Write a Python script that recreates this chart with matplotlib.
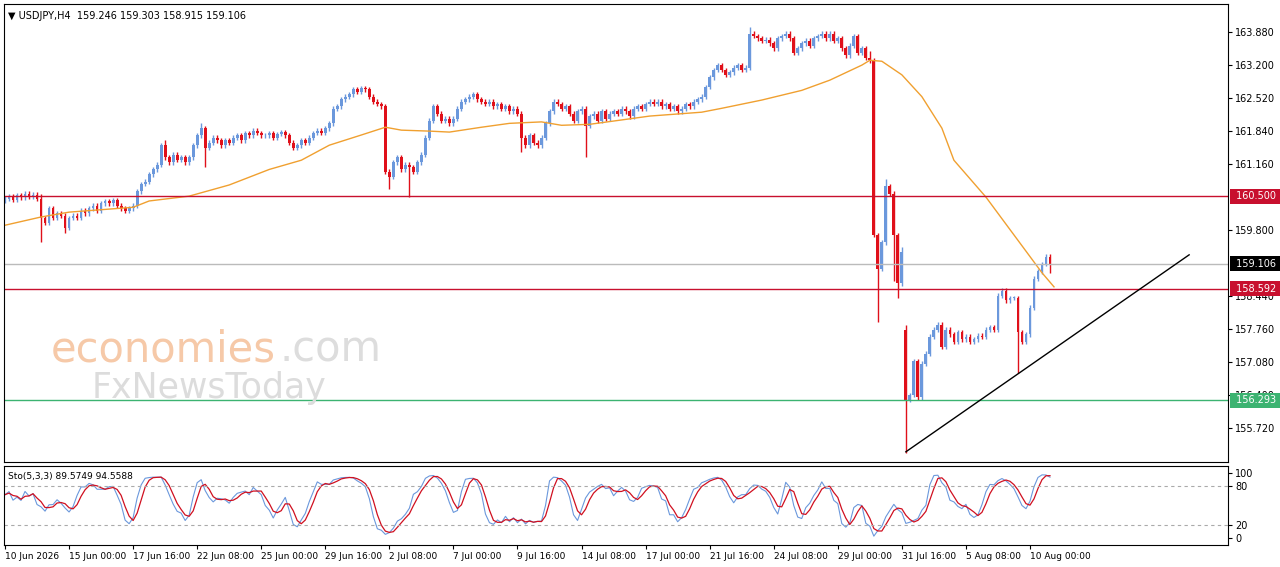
import numpy as np
import matplotlib
matplotlib.use("Agg")
import matplotlib.pyplot as plt
import matplotlib.transforms as mtransforms

closes = [160.45,160.50,160.42,160.52,160.48,160.55,160.50,160.53,160.45,
 160.05,
 159.95,160.25,160.05,160.15,160.10,159.85,160.05,
 160.10,160.05,160.20,160.15,160.25,160.30,160.20,160.35,
 160.40,160.35,160.42,160.30,160.25,160.20,160.25,160.30,
 160.60,160.75,160.80,160.95,161.05,161.15,161.55,161.30,
 161.20,161.35,161.25,161.30,161.20,161.30,161.55,
 161.75,161.90,161.50,
 161.60,161.70,161.65,161.55,161.65,161.60,161.70,161.75,161.65,161.80,161.75,161.85,161.80,161.75,
 161.75,161.80,161.70,161.78,161.82,161.75,161.60,161.50,161.55,161.65,161.60,161.70,161.80,161.85,161.80,161.90,162.00,
 162.30,162.35,162.50,162.55,162.60,162.70,162.65,162.72,162.70,162.55,162.45,
 162.40,162.35,161.00,160.90,161.20,161.30,161.05,161.15,
 161.10,161.00,161.20,161.35,161.70,162.05,162.35,162.20,
 162.05,162.10,162.00,162.10,162.30,162.45,162.50,162.55,162.60,162.50,162.45,162.40,
 162.45,162.35,162.40,162.30,162.35,162.25,162.30,162.20,
 161.70,161.55,161.75,161.60,161.55,161.70,162.00,162.25,
 162.45,162.40,162.30,162.35,162.20,162.05,162.25,162.30,161.95,
 162.15,162.20,162.05,162.25,162.10,162.20,162.25,162.20,162.30,162.25,162.15,162.30,162.35,162.30,162.40,
 162.45,162.40,162.45,162.35,162.40,162.30,162.35,162.25,162.30,162.40,162.35,162.45,162.50,162.55,
 162.75,162.95,163.10,163.20,163.10,163.00,163.05,163.15,163.20,163.10,163.15,163.85,
 163.80,163.75,163.70,163.72,163.65,163.55,163.75,163.80,163.85,163.75,163.45,163.55,163.65,
 163.70,163.60,163.75,163.80,163.85,163.75,163.85,163.70,163.75,163.55,163.40,163.60,163.80,163.45,163.55,163.35,
 163.30,159.70,159.00,159.55,160.70,160.55,159.70,158.70,159.35,
 156.30,156.40,157.10,156.35,157.05,157.25,157.60,157.75,157.85,157.40,157.75,157.65,157.50,157.70,157.55,157.60,
 157.50,157.55,157.62,157.60,157.75,157.80,157.75,158.45,158.55,158.35,158.40,158.40,157.70,157.50,157.65,158.20,158.80,158.95,159.10,159.25,159.11]
first_open = 160.40
gap_opens = {225: 157.75}
high_marks = {9: 160.55, 40: 161.65, 49: 162.00, 186: 163.98, 216: 163.50, 220: 160.85,
              221: 160.75, 224: 159.45, 225: 157.85, 261: 159.30}
low_marks = {9: 159.55, 15: 159.75, 50: 161.10, 96: 160.65, 101: 160.48, 129: 161.40,
             145: 161.30, 218: 157.90, 222: 158.75, 223: 158.40, 225: 155.20, 253: 156.85,
             261: 158.92}
wick = 0.05

ma_bars = [0, 9, 16, 24, 32, 36, 46, 56, 66, 74, 81, 89, 95, 99, 106, 111, 119, 126, 134,
           139, 146, 154, 161, 174, 179, 189, 199, 206, 214, 216, 219, 224, 229, 234, 237, 245, 259, 262]
ma_vals = [159.90, 160.07, 160.17, 160.22, 160.27, 160.40, 160.50, 160.73, 161.05, 161.24,
           161.55, 161.76, 161.92, 161.86, 161.84, 161.82, 161.92, 162.00, 162.03, 161.96,
           161.98, 162.07, 162.15, 162.23, 162.31, 162.48, 162.68, 162.89, 163.20, 163.30,
           163.28, 163.00, 162.55, 161.90, 161.24, 160.48, 158.92, 158.63]

h_levels = [160.500, 158.592, 156.293]
h_colors = ["#C8102E", "#C8102E", "#3CB371"]
last_price = 159.106
trend_bars = [225, 295.75]
trend_vals = [155.23, 159.29]

price_ticks = [163.880, 163.200, 162.520, 161.840, 161.160, 159.800, 158.440, 157.760, 157.080, 156.400, 155.720]
date_labels = ["10 Jun 2026", "15 Jun 00:00", "17 Jun 16:00", "22 Jun 08:00", "25 Jun 00:00",
               "29 Jun 16:00", "2 Jul 08:00", "7 Jul 00:00", "9 Jul 16:00", "14 Jul 08:00",
               "17 Jul 00:00", "21 Jul 16:00", "24 Jul 08:00", "29 Jul 00:00", "31 Jul 16:00",
               "5 Aug 08:00", "10 Aug 00:00"]

# ---- derived
c = np.array(closes)
n = len(c)
o = np.concatenate([[first_open], c[:-1]])
for k, v in gap_opens.items():
    o[k] = v
hi = np.maximum(o, c) + wick
lo = np.minimum(o, c) - wick
for k, v in high_marks.items():
    hi[k] = v
for k, v in low_marks.items():
    lo[k] = v

num = np.array([c[i] - lo[max(0, i-4):i+1].min() for i in range(n)])
den = np.array([hi[max(0, i-4):i+1].max() - lo[max(0, i-4):i+1].min() for i in range(n)])
Kp = np.array([100 * num[max(0, i-2):i+1].sum() / den[max(0, i-2):i+1].sum() for i in range(n)])
Dp = np.array([Kp[max(0, i-2):i+1].mean() for i in range(n)])

W, H = 1280, 567
fig = plt.figure(figsize=(12.8, 5.67), dpi=100)
plt.rcParams['font.family'] = 'DejaVu Sans'
ax = fig.add_axes([4/W, (H-462)/H, 1224/W, 458/H])
ax2 = fig.add_axes([4/W, (H-545)/H, 1224/W, 79/H])

p = (1050 - 5) / (n - 1)
xmin, xmax = -1/p, (1228-5)/p
x = np.arange(n)
blue, red = "#6B98DC", "#E0101A"
cols = [blue if c[i] >= o[i] else red for i in range(n)]
ax.vlines(x, lo, hi, colors=cols, linewidth=1)
ax.bar(x, np.maximum(np.abs(c - o), 0.015), bottom=np.minimum(o, c), width=0.7, color=cols, linewidth=0)
ax.plot(ma_bars, ma_vals, color="#F0A030", lw=1)
for lv, cl in zip(h_levels, h_colors):
    ax.axhline(lv, color=cl, lw=1)
ax.axhline(last_price, color="#BBBBBB", lw=1)
ax.plot(trend_bars, trend_vals, color="black", lw=1)

ymin, ymax = 155.02, 164.46
ax.set_xlim(xmin, xmax); ax.set_ylim(ymin, ymax)
ax.set_xticks([]); ax.yaxis.tick_right()
ax.set_yticks(price_ticks)
ax.set_yticklabels([f"{t:.3f}" for t in price_ticks], fontsize=7)
ax.tick_params(axis='y', length=3, pad=2)
tr = mtransforms.blended_transform_factory(ax.transAxes, ax.transData)
for lv, cl in zip(h_levels + [last_price], h_colors + ["black"]):
    ax.text(1.004, lv, f" {lv:.3f} ", transform=tr, fontsize=7, color="white", va="center", ha="left",
            zorder=10, clip_on=False,
            bbox=dict(boxstyle="square,pad=0.25", fc=cl, ec="none"))
ax.text(0.003, 0.985, "▼ USDJPY,H4  159.246 159.303 158.915 159.106", transform=ax.transAxes,
        fontsize=7, va="top", ha="left")
ax.text(47/1224, 1 - 345/458, "economies", transform=ax.transAxes, fontsize=30, color="#F6C9A8",
        va="center", ha="left")
ax.text(276/1224, 1 - 345/458, ".com", transform=ax.transAxes, fontsize=30, color="#DDDDDD",
        va="center", ha="left")
ax.text(88/1224, 1 - 384/458, "FxNewsToday", transform=ax.transAxes, fontsize=25, color="#DCDCDC",
        va="center", ha="left")

ax2.plot(x, Kp, color="#6B98DC", lw=0.8)
ax2.plot(x, Dp, color="#D01020", lw=0.9)
for lv in (80, 20):
    ax2.axhline(lv, color="#AAAAAA", lw=0.8, ls=(0, (3, 3)))
ax2.set_xlim(xmin, xmax); ax2.set_ylim(-10.8, 110.8)
ax2.yaxis.tick_right()
ax2.set_yticks([100, 80, 20, 0]); ax2.set_yticklabels(["100", "80", "20", "0"], fontsize=7)
ax2.tick_params(axis='y', length=3, pad=2)
ax2.set_xticks(np.arange(len(date_labels)) * 16)
ax2.set_xticklabels(date_labels, fontsize=6.5, ha="left")
ax2.tick_params(axis='x', length=3, pad=2)
ax2.text(0.003, 0.93, "Sto(5,3,3) 89.5749 94.5588", transform=ax2.transAxes, fontsize=6.5, va="top")

fig.savefig("out.png", dpi=100, facecolor="white")
